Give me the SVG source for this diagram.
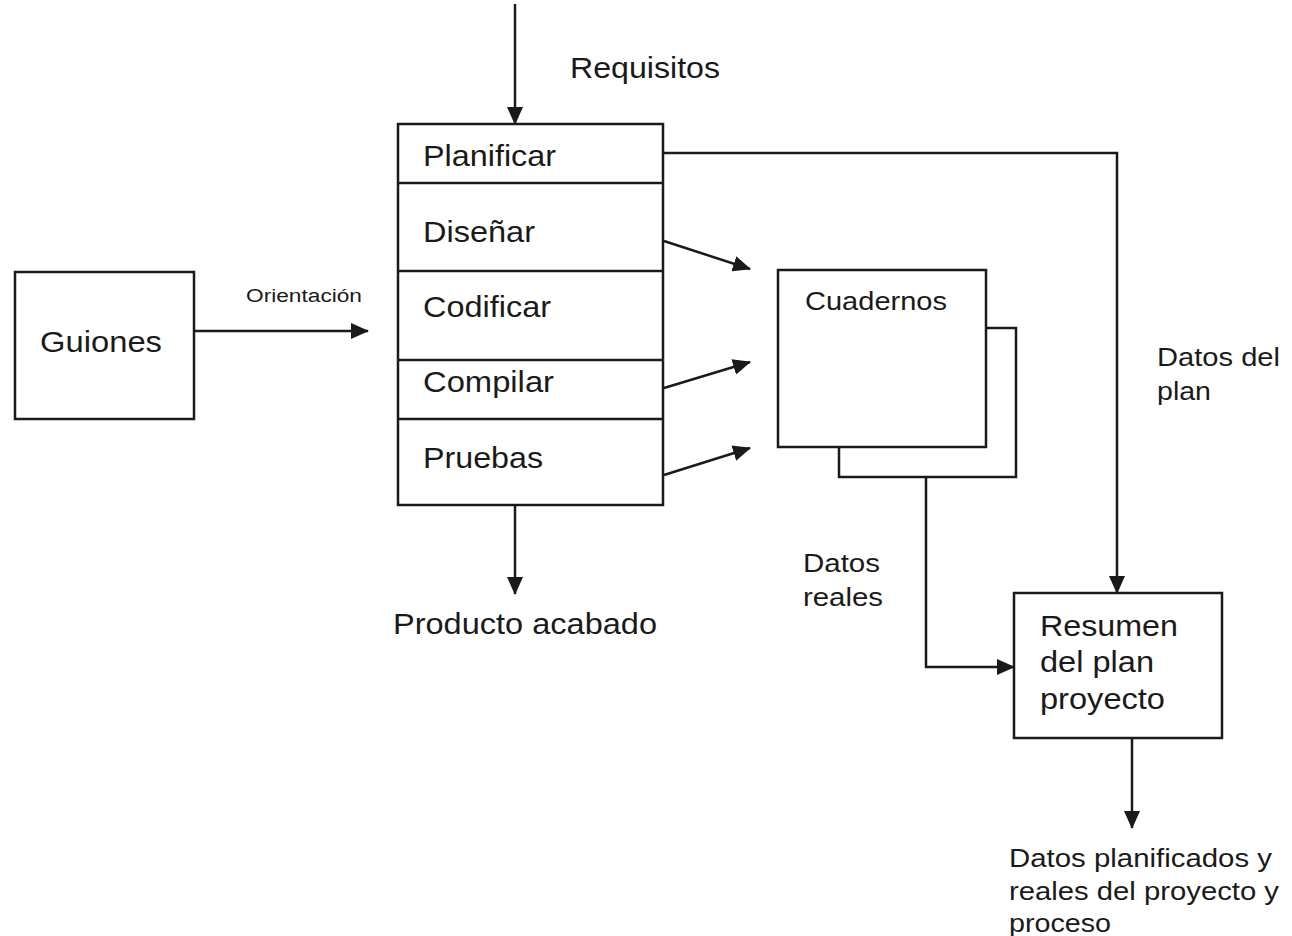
<svg xmlns="http://www.w3.org/2000/svg" width="1292" height="936" viewBox="0 0 1292 936">
  <style>
    .box { fill: #fff; stroke: #1a1a1a; stroke-width: 2.5; }
    .div { stroke: #1a1a1a; stroke-width: 2.5; }
    .wire { fill: none; stroke: #1a1a1a; stroke-width: 2.5; }
    .lbl { font-family: "Liberation Sans", Arial, sans-serif; fill: #1a1a1a; }
    .big { font-size: 30px; }
    .mid { font-size: 26px; }
    .sml { font-size: 18px; }
  </style>
  <defs>
    <marker id="arrow" markerUnits="userSpaceOnUse" markerWidth="18" markerHeight="16" refX="17" refY="8" orient="auto">
      <path d="M0,0 L18,8 L0,16 Z" fill="#1a1a1a"/>
    </marker>
  </defs>
  <rect width="1292" height="936" fill="#fff"/>

  <g id="connectors">
    <!-- Requisitos into the process -->
    <line class="wire" x1="515" y1="4" x2="515" y2="124" marker-end="url(#arrow)"/>
    <!-- Guiones to the process -->
    <line class="wire" x1="194" y1="331" x2="368" y2="331" marker-end="url(#arrow)"/>
    <!-- phases to logs -->
    <line class="wire" x1="664" y1="241" x2="750" y2="269" marker-end="url(#arrow)"/>
    <line class="wire" x1="664" y1="388" x2="750" y2="362" marker-end="url(#arrow)"/>
    <line class="wire" x1="664" y1="475" x2="750" y2="448" marker-end="url(#arrow)"/>
    <!-- plan data to summary -->
    <polyline class="wire" points="663,153 1117,153 1117,593" marker-end="url(#arrow)"/>
    <!-- actual data to summary -->
    <polyline class="wire" points="926,477 926,667 1014,667" marker-end="url(#arrow)"/>
    <!-- finished product -->
    <line class="wire" x1="515" y1="506" x2="515" y2="594" marker-end="url(#arrow)"/>
    <!-- summary output -->
    <line class="wire" x1="1132" y1="738" x2="1132" y2="828" marker-end="url(#arrow)"/>
  </g>

  <g id="guiones">
    <rect class="box" x="15" y="272" width="179" height="147"/>
    <text class="lbl big" x="40" y="352" textLength="122" lengthAdjust="spacingAndGlyphs">Guiones</text>
  </g>

  <g id="proceso">
    <rect class="box" x="398" y="124" width="265" height="381"/>
    <line class="div" x1="398" y1="183" x2="663" y2="183"/>
    <line class="div" x1="398" y1="271" x2="663" y2="271"/>
    <line class="div" x1="398" y1="360" x2="663" y2="360"/>
    <line class="div" x1="398" y1="419" x2="663" y2="419"/>
    <text class="lbl big" x="423" y="166" textLength="133" lengthAdjust="spacingAndGlyphs">Planificar</text>
    <text class="lbl big" x="423" y="242" textLength="112" lengthAdjust="spacingAndGlyphs">Diseñar</text>
    <text class="lbl big" x="423" y="317" textLength="128" lengthAdjust="spacingAndGlyphs">Codificar</text>
    <text class="lbl big" x="423" y="392" textLength="131" lengthAdjust="spacingAndGlyphs">Compilar</text>
    <text class="lbl big" x="423" y="468" textLength="120" lengthAdjust="spacingAndGlyphs">Pruebas</text>
  </g>

  <g id="cuadernos">
    <rect class="box" x="839" y="328" width="177" height="149"/>
    <rect class="box" x="778" y="270" width="208" height="177"/>
    <text class="lbl mid" x="805" y="310" textLength="142" lengthAdjust="spacingAndGlyphs">Cuadernos</text>
  </g>

  <g id="resumen">
    <rect class="box" x="1014" y="593" width="208" height="145"/>
    <text class="lbl big" x="1040" y="636" textLength="138" lengthAdjust="spacingAndGlyphs">Resumen</text>
    <text class="lbl big" x="1040" y="672" textLength="114" lengthAdjust="spacingAndGlyphs">del plan</text>
    <text class="lbl big" x="1040" y="709" textLength="125" lengthAdjust="spacingAndGlyphs">proyecto</text>
  </g>

  <g id="labels">
    <text class="lbl big" x="570" y="78" textLength="150" lengthAdjust="spacingAndGlyphs">Requisitos</text>
    <text class="lbl sml" x="246" y="302" textLength="116" lengthAdjust="spacingAndGlyphs">Orientación</text>
    <text class="lbl mid" x="1157" y="366" textLength="123" lengthAdjust="spacingAndGlyphs">Datos del</text>
    <text class="lbl mid" x="1157" y="400" textLength="54" lengthAdjust="spacingAndGlyphs">plan</text>
    <text class="lbl mid" x="803" y="572" textLength="77" lengthAdjust="spacingAndGlyphs">Datos</text>
    <text class="lbl mid" x="803" y="606" textLength="80" lengthAdjust="spacingAndGlyphs">reales</text>
    <text class="lbl big" x="393" y="634" textLength="264" lengthAdjust="spacingAndGlyphs">Producto acabado</text>
    <text class="lbl mid" x="1009" y="867" textLength="263" lengthAdjust="spacingAndGlyphs">Datos planificados y</text>
    <text class="lbl mid" x="1009" y="900" textLength="270" lengthAdjust="spacingAndGlyphs">reales del proyecto y</text>
    <text class="lbl mid" x="1009" y="932" textLength="102" lengthAdjust="spacingAndGlyphs">proceso</text>
  </g>
</svg>
